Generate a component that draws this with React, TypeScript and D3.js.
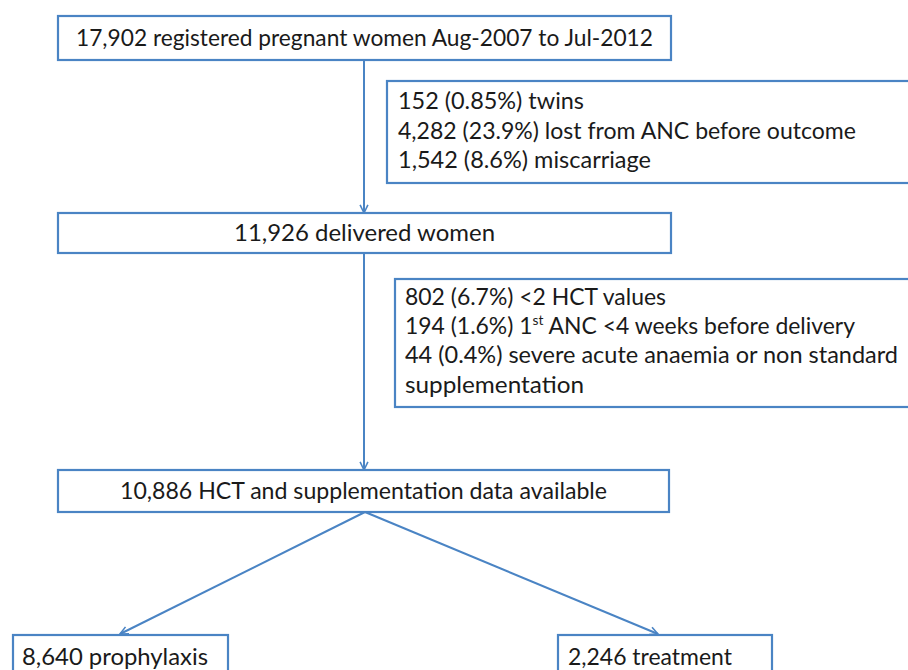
import React from "react";
import * as d3 from "d3";

// ---- data (labels) ----
const mainLabels = [
  "17,902 registered pregnant women Aug-2007 to Jul-2012",
  "11,926 delivered women",
  "10,886 HCT and supplementation data available",
];
const exclusionsFirst = [
  "152 (0.85%) twins",
  "4,282 (23.9%) lost from ANC before outcome",
  "1,542 (8.6%) miscarriage",
];
// "^" marks the start of a superscript run, "~" its end
const exclusionsSecond = [
  "802 (6.7%) <2 HCT values",
  "194 (1.6%) 1^st~ ANC <4 weeks before delivery",
  "44 (0.4%) severe acute anaemia or non standard",
  "supplementation",
];
const branchLabels = ["8,640 prophylaxis", "2,246 treatment"];

// ---- layout (pixel geometry, kept apart from the data) ----
const W = 908;
const H = 670;
const blue = "#4a84c4";
const font = "Lato, 'Open Sans', sans-serif";
const fontSize = 23;

const mainBoxes = [
  {x0: 58, x1: 671, y0: 16, y1: 60, textW: 577},
  {x0: 58, x1: 671, y0: 213, y1: 253, textW: 261},
  {x0: 58, x1: 669, y0: 470, y1: 512, textW: 487},
];
const sideBoxes = [
  {x0: 387, x1: 920, y0: 81, y1: 183, tx: 398, ty0: 109, dy: 29.5, textW: [186, 458, 253]},
  {x0: 395, x1: 920, y0: 279, y1: 407, tx: 405, ty0: 305, dy: 29.2, textW: [261, 450, 493, 179]},
];
const branchBoxes = [
  {x0: 13, x1: 228, y0: 635, y1: 700, tx: 22, ty: 665, textW: 186, tipX: 120},
  {x0: 558, x1: 772, y0: 635, y1: 700, tx: 568, ty: 665, textW: 164, tipX: 658},
];
const trunkX = 364;

const line = d3.line<[number, number]>();

function arrowHead(tip: [number, number], from: [number, number]) {
  const ang = Math.atan2(tip[1] - from[1], tip[0] - from[0]);
  const len = 9;
  const spread = 0.45;
  const a: [number, number] = [tip[0] - len * Math.cos(ang - spread), tip[1] - len * Math.sin(ang - spread)];
  const b: [number, number] = [tip[0] - len * Math.cos(ang + spread), tip[1] - len * Math.sin(ang + spread)];
  return line([a, tip, b]) || "";
}

function RichLine({text}: {text: string}) {
  const parts = text.split(/(\^[^~]*~)/).filter(p => p.length);
  return (
    <>
      {parts.map((p, i) =>
        p.startsWith("^") ? (
          <tspan key={i} fontSize={fontSize * 0.6} dy={-9}>{p.slice(1, -1)}</tspan>
        ) : (
          <tspan key={i} dy={i > 0 && parts[i - 1].startsWith("^") ? 9 : 0}>{p}</tspan>
        )
      )}
    </>
  );
}

export default function App() {
  const connectors: {from: [number, number]; to: [number, number]}[] = [
    {from: [trunkX, mainBoxes[0].y1], to: [trunkX, mainBoxes[1].y0]},
    {from: [trunkX, mainBoxes[1].y1], to: [trunkX, mainBoxes[2].y0]},
    ...branchBoxes.map(b => ({from: [trunkX + 1, mainBoxes[2].y1] as [number, number], to: [b.tipX, b.y0 - 1] as [number, number]})),
  ];

  return (
    <svg width={W} height={H} style={{position: "absolute", left: 0, top: 0, background: "#fff"}}
         fontFamily={font} fontSize={fontSize} fill="#1a1a1a">
      {connectors.map((c, i) => (
        <g key={i} stroke={blue} strokeWidth={2} fill="none">
          <path d={line([c.from, c.to]) || ""}/>
          <path d={arrowHead(c.to, c.from)} strokeWidth={1.6}/>
        </g>
      ))}

      {mainBoxes.map((b, i) => (
        <g key={i}>
          <rect x={b.x0} y={b.y0} width={b.x1 - b.x0} height={b.y1 - b.y0} fill="#fff" stroke={blue} strokeWidth={2.2}/>
          <text x={(b.x0 + b.x1) / 2} y={(b.y0 + b.y1) / 2 + 8} textAnchor="middle"
                textLength={b.textW} lengthAdjust="spacingAndGlyphs">
            {mainLabels[i]}
          </text>
        </g>
      ))}

      {[exclusionsFirst, exclusionsSecond].map((lines, i) => {
        const b = sideBoxes[i];
        return (
          <g key={i}>
            <rect x={b.x0} y={b.y0} width={b.x1 - b.x0} height={b.y1 - b.y0} fill="#fff" stroke={blue} strokeWidth={2.2}/>
            {lines.map((t, j) => (
              <text key={j} x={b.tx} y={b.ty0 + j * b.dy} textLength={b.textW[j]} lengthAdjust="spacingAndGlyphs">
                <RichLine text={t}/>
              </text>
            ))}
          </g>
        );
      })}

      {branchBoxes.map((b, i) => (
        <g key={i}>
          <rect x={b.x0} y={b.y0} width={b.x1 - b.x0} height={b.y1 - b.y0} fill="#fff" stroke={blue} strokeWidth={2.2}/>
          <text x={b.tx} y={b.ty} textLength={b.textW} lengthAdjust="spacingAndGlyphs">{branchLabels[i]}</text>
        </g>
      ))}
    </svg>
  );
}
